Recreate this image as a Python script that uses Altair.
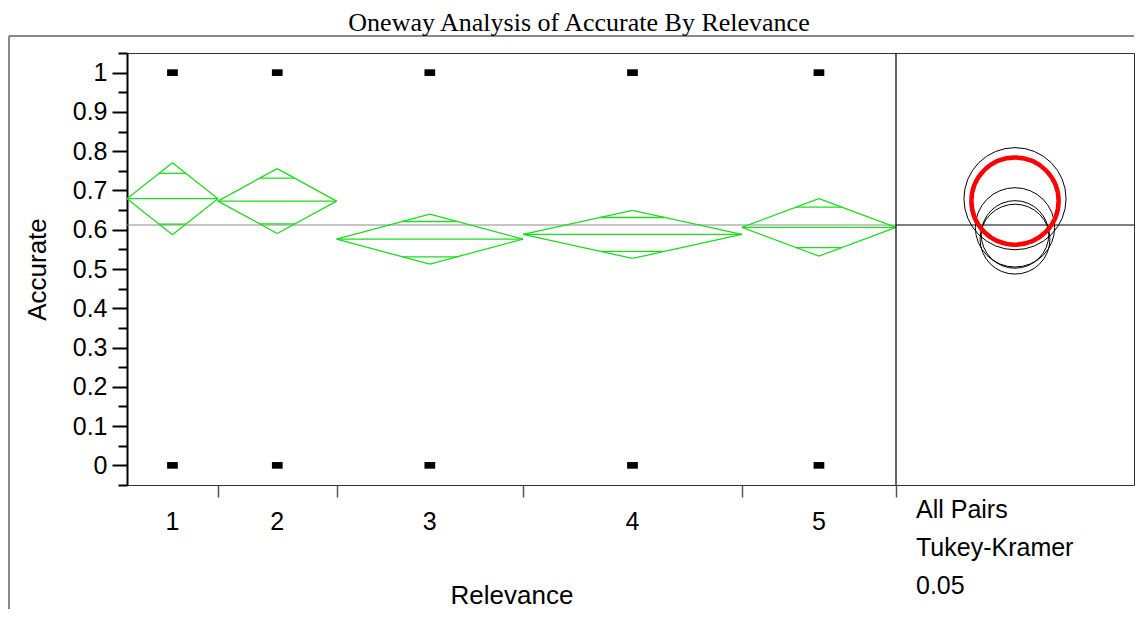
import math
import altair as alt
import pandas as pd

# ---------------- data ----------------
title_text = "Oneway Analysis of Accurate By Relevance"
levels = ["1", "2", "3", "4", "5"]
group_n = [59, 77, 121, 142, 100]              # group sizes (x widths are proportional)
group_mean = [0.679, 0.673, 0.576, 0.588, 0.606]
ci_halfwidth = [0.0915, 0.0825, 0.0635, 0.061, 0.073]
circle_radius = [0.130, 0.111, 0.089, 0.086, 0.101]
response_values = [0, 1]
grand_mean = 0.612
y_major = [0, 0.1, 0.2, 0.3, 0.4, 0.5, 0.6, 0.7, 0.8, 0.9, 1]
y_minor = [-0.05, 0.05, 0.15, 0.25, 0.35, 0.45, 0.55, 0.65, 0.75, 0.85, 0.95, 1.05]
compare_lines = ["All Pairs", "Tukey-Kramer", "\u00a00.05"]
selected_level = "2"
x_title = "Relevance"
y_title = "Accurate"

# ---------------- layout / style ----------------
W, H = 1007, 432
LEFT_W = 769                      # pixel width of the category region
GREEN = "#1EDC1E"
SANS = "Liberation Sans"
SERIF = "Liberation Serif"

total = sum(group_n)
x_max = total * W / LEFT_W
px_per_val = H / 1.1

bounds = [0]
for n in group_n:
    bounds.append(bounds[-1] + n)
centers = [(bounds[i] + bounds[i + 1]) / 2 for i in range(len(levels))]

# diamond segments
segs = []
for i, lv in enumerate(levels):
    L, R, C = bounds[i], bounds[i + 1], centers[i]
    m, h = group_mean[i], ci_halfwidth[i]
    segs += [
        dict(x=L, x2=C, y=m, y2=m + h),
        dict(x=C, x2=R, y=m + h, y2=m),
        dict(x=R, x2=C, y=m, y2=m - h),
        dict(x=C, x2=L, y=m - h, y2=m),
        dict(x=L, x2=R, y=m, y2=m),
    ]
    half = (R - L) / 2 * (1 - 1 / math.sqrt(2))
    for s in (1, -1):
        yy = m + s * h / math.sqrt(2)
        segs.append(dict(x=C - half, x2=C + half, y=yy, y2=yy))
seg_df = pd.DataFrame(segs)

pts_df = pd.DataFrame([dict(level=lv, x=centers[i], y=r)
                       for i, lv in enumerate(levels) for r in response_values])

circ_x = (total + x_max) / 2
circ_df = pd.DataFrame(dict(level=levels, x=[circ_x] * 5, y=group_mean,
                            r=circle_radius))

lab_df = pd.DataFrame(dict(level=levels, x=centers))
gm_df = pd.DataFrame([dict(x=0, x2=total, y=grand_mean, part="left"),
                      dict(x=total, x2=x_max, y=grand_mean, part="right")])
cmp_df = pd.DataFrame(dict(x=[total + 20 * x_max / W], t=["\n".join(compare_lines)]))
one = pd.DataFrame(dict(a=[0]))

xs = alt.Scale(domain=[0, x_max], nice=False, zero=False)
ys = alt.Scale(domain=[-0.05, 1.05], nice=False, zero=False)

x_axis = alt.Axis(values=bounds[1:], orient="bottom", tickSize=12, tickColor="#555",
                  tickWidth=1.5, labels=False, domain=False, grid=False,
                  title=x_title, titleFont=SANS, titleFontSize=26,
                  titleFontWeight="normal", titleColor="black",
                  titleX=LEFT_W / 2, titleY=118, titleBaseline="alphabetic",
                  titleAlign="center")
y_axis_major = alt.Axis(values=y_major, orient="left", format="~g", tickSize=15,
                        tickWidth=2, tickColor="black", labelPadding=5,
                        labelFont=SANS, labelFontSize=25, labelColor="black",
                        domain=True, domainColor="black", domainWidth=2, grid=False,
                        title=y_title, titleFont=SANS, titleFontSize=26,
                        titleFontWeight="normal", titleColor="black",
                        titlePadding=22)
y_axis_minor = alt.Axis(values=y_minor, orient="left", tickSize=9, tickWidth=2,
                        tickColor="black", labels=False, domain=False, grid=False,
                        title=None)

diamonds = alt.Chart(seg_df).mark_rule(color=GREEN, strokeWidth=1.3).encode(
    x=alt.X("x:Q", scale=xs, axis=x_axis), x2="x2:Q",
    y=alt.Y("y:Q", scale=ys, axis=y_axis_major), y2="y2:Q")

gmean = alt.Chart(gm_df).mark_rule(strokeWidth=1.2).encode(
    x=alt.X("x:Q", scale=xs, axis=None), x2="x2:Q",
    y=alt.Y("y:Q", scale=ys, axis=None),
    color=alt.condition("datum.part == 'left'", alt.value("#8c8c8c"), alt.value("black")))

divider = alt.Chart(pd.DataFrame(dict(x=[total]))).mark_rule(color="black", strokeWidth=1.2).encode(
    x=alt.X("x:Q", scale=xs, axis=None))

pts = alt.Chart(pts_df).mark_point(
    shape="M-1,-0.62L1,-0.62L1,0.62L-1,0.62Z", filled=True, color="black",
    opacity=1, size=115).encode(
    x=alt.X("x:Q", scale=xs, axis=None),
    y=alt.Y("y:Q", scale=ys, axis=y_axis_minor))

size_scale = alt.Scale(domain=[0, 1], range=[0, 4 * px_per_val ** 2])
circ_base = alt.Chart(circ_df).transform_calculate(r2="datum.r * datum.r")
circ_black = circ_base.transform_filter(f"datum.level != '{selected_level}'").mark_point(
    shape="circle", filled=False, color="black", strokeWidth=1, opacity=1).encode(
    x=alt.X("x:Q", scale=xs, axis=None), y=alt.Y("y:Q", scale=ys, axis=None),
    size=alt.Size("r2:Q", scale=size_scale, legend=None))
circ_red = circ_base.transform_filter(f"datum.level == '{selected_level}'").mark_point(
    shape="circle", filled=False, color="#FF0000", strokeWidth=4.5, opacity=1).encode(
    x=alt.X("x:Q", scale=xs, axis=None), y=alt.Y("y:Q", scale=ys, axis=None),
    size=alt.Size("r2:Q", scale=size_scale, legend=None))

labels = alt.Chart(lab_df).mark_text(font=SANS, fontSize=25, baseline="middle",
                                      align="center", color="black").encode(
    x=alt.X("x:Q", scale=xs, axis=None), y=alt.value(H + 37), text="level:N")

cmp_text = alt.Chart(cmp_df).mark_text(font=SANS, fontSize=25, baseline="middle",
                                       align="left", color="black", lineBreak="\n",
                                       lineHeight=38).encode(
    x=alt.X("x:Q", scale=xs, axis=None), y=alt.value(H + 25), text="t:N")

title = alt.Chart(pd.DataFrame(dict(t=[title_text]))).mark_text(
    font=SERIF, fontSize=26, baseline="alphabetic", align="center",
    color="black").encode(x=alt.value(452), y=alt.value(-22), text="t:N")

frame_top = alt.Chart(one).mark_rule(color="#888888", strokeWidth=2).encode(
    x=alt.value(-118), x2=alt.value(W), y=alt.value(-17))
frame_left = alt.Chart(one).mark_rule(color="#888888", strokeWidth=2).encode(
    x=alt.value(-118), y=alt.value(-17), y2=alt.value(H + 124))

chart = alt.layer(
    frame_top, frame_left, title, gmean, diamonds, divider, pts,
    circ_black, circ_red, labels, cmp_text
).resolve_axis(x="independent", y="independent").properties(
    width=W, height=H, padding={"top": 2, "left": 0, "right": 0, "bottom": 0},
    background="white"
).configure_view(stroke="#333333", strokeWidth=1)

chart.save("out.html", embed_options={"renderer": "svg", "actions": False})
